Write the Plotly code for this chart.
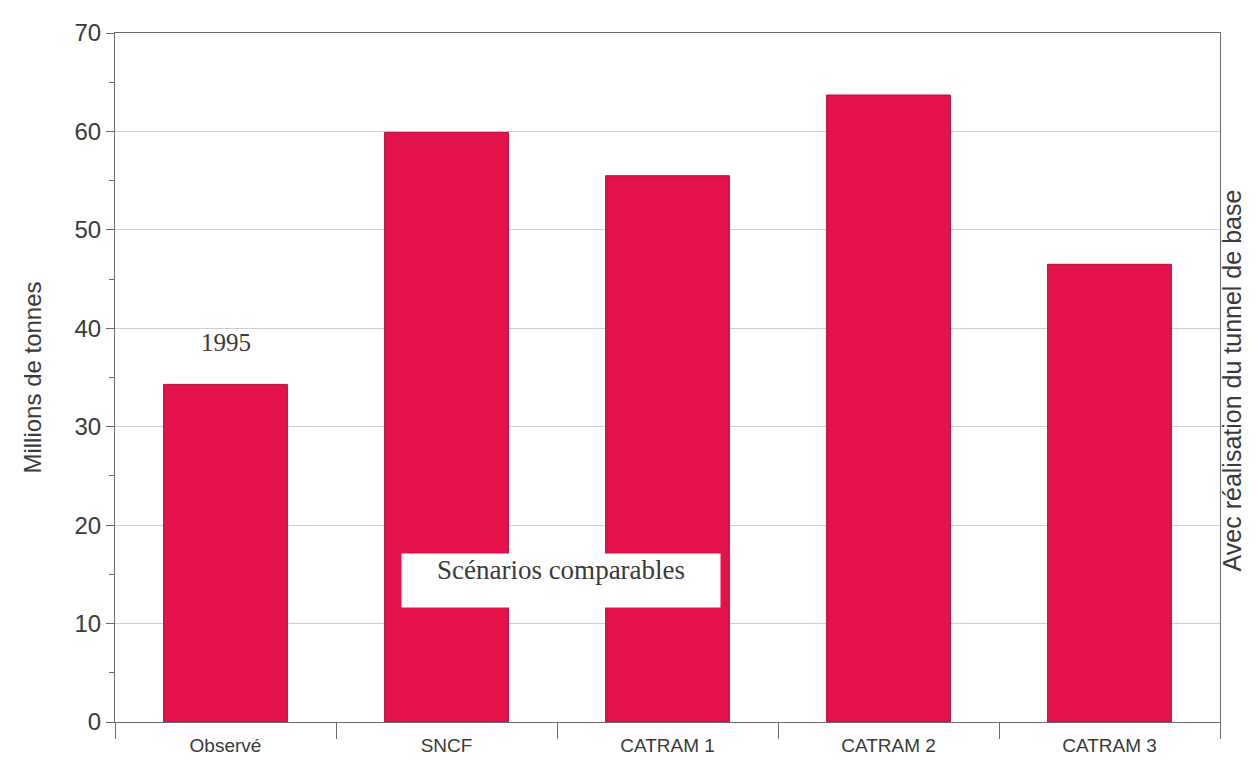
import plotly.graph_objects as go

# Fret transalpin - millions de tonnes
categories = ["Observé", "SNCF", "CATRAM 1", "CATRAM 2", "CATRAM 3"]
values = [34.3, 59.9, 55.5, 63.7, 46.5]

BAR_COLOR = "#E3124A"
GRID = "#cfcfcf"
AXIS = "#6b6b6b"
TEXT = "#3a3a3a"

fig = go.Figure()

fig.add_trace(go.Bar(
    x=categories,
    y=values,
    marker=dict(color=BAR_COLOR, line=dict(color="#b50c38", width=1)),
    width=0.56,
    showlegend=False,
))

# year label above the observed bar
fig.add_annotation(
    x=0, y=38.6, xref="x", yref="y",
    text="1995", showarrow=False,
    font=dict(family="Liberation Serif", size=25, color=TEXT),
)

# white box over the scenario bars
fig.add_annotation(
    x=1.52, y=14.4, xref="x", yref="y",
    text="Scénarios comparables", showarrow=False,
    width=316, height=51, valign="top",
    bgcolor="white",
    font=dict(family="Liberation Serif", size=27, color=TEXT),
)

# right-hand side label
fig.add_annotation(
    x=1.011, y=0.496, xref="paper", yref="paper",
    xanchor="center", yanchor="middle",
    text="Avec réalisation du tunnel de base", showarrow=False,
    textangle=-90,
    font=dict(family="Liberation Sans", size=25, color=TEXT),
)

fig.update_layout(
    width=1242, height=751,
    margin=dict(l=107, r=30, t=25, b=37),
    paper_bgcolor="white",
    plot_bgcolor="white",
    font=dict(family="Liberation Sans", color=TEXT),
    bargap=0.44,
    xaxis=dict(
        tickson="boundaries",
        ticks="outside", ticklen=16, tickcolor=AXIS,
        showline=True, linecolor=AXIS, linewidth=1,
        mirror=True,
        showgrid=False,
        automargin=False,
        ticklabelstandoff=6,
        tickfont=dict(size=19, color=TEXT),
    ),
    yaxis=dict(
        range=[0, 70],
        dtick=10,
        ticks="outside", ticklen=8, tickcolor=AXIS,
        showline=True, linecolor=AXIS, linewidth=1,
        mirror=True,
        showgrid=True, gridcolor=GRID, gridwidth=1,
        zeroline=False,
        minor=dict(ticks="outside", dtick=5, ticklen=5, tickcolor=AXIS, showgrid=False),
        tickfont=dict(size=24, color=TEXT),
        title=dict(text="Millions de tonnes", font=dict(size=24, color=TEXT), standoff=26),
    ),
)

fig.write_html("out.html")
